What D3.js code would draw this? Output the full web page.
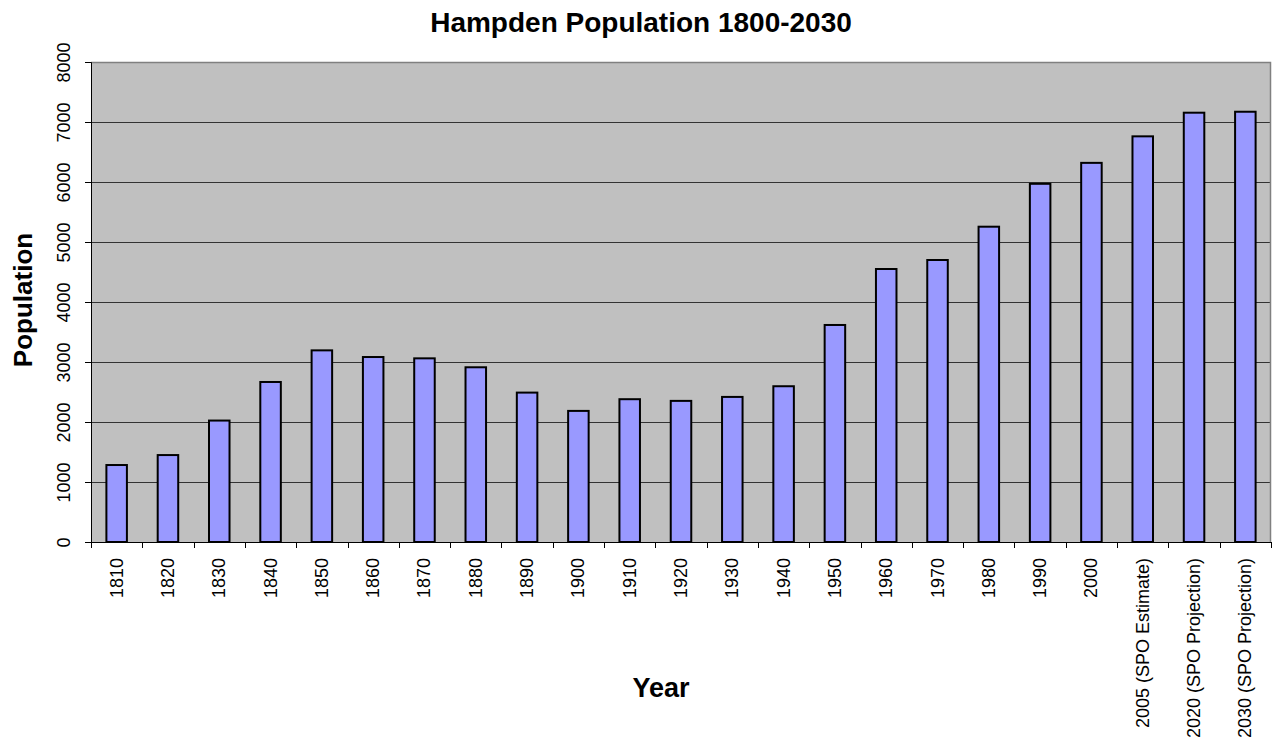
<!DOCTYPE html>
<html>
<head>
<meta charset="utf-8">
<script src="https://cdn.jsdelivr.net/npm/d3@7"></script>
<style>
  html, body { margin: 0; padding: 0; background: #fff; }
  svg { display: block; font-family: "Liberation Sans", Arial, sans-serif; }
</style>
</head>
<body>
<div id="chart"></div>
<script>
'use strict';

/* Hampden population by census year */
const years = ['1810', '1820', '1830', '1840', '1850', '1860', '1870', '1880', '1890', '1900',
    '1910', '1920', '1930', '1940', '1950', '1960', '1970', '1980', '1990', '2000',
    '2005 (SPO Estimate)', '2020 (SPO Projection)', '2030 (SPO Projection)'];
const population = [1283, 1449, 2024, 2667, 3194, 3083, 3061, 2912, 2490, 2185,
    2380, 2352, 2418, 2596, 3617, 4550, 4700, 5255, 5970, 6319,
    6761, 7155, 7171];
const yTicks = [0, 1000, 2000, 3000, 4000, 5000, 6000, 7000, 8000];

const W = 1272, H = 743;
const margin = { top: 62, right: 1, bottom: 201, left: 91 };
const iw = W - margin.left - margin.right;
const ih = H - margin.top - margin.bottom;

const svg = d3.select('#chart').append('svg').attr('width', W).attr('height', H);
const g = svg.append('g').attr('transform', `translate(${margin.left},${margin.top})`);

const x = d3.scaleBand().domain(years).range([0, iw]).paddingInner(0.6).paddingOuter(0.3);
const y = d3.scaleLinear().domain([0, 8000]).range([ih, 0]);

/* plot background */
g.append('rect').attr('width', iw).attr('height', ih).attr('fill', '#C0C0C0');

/* gridlines */
g.selectAll('line.grid')
    .data(yTicks.slice(1, -1))
    .join('line')
    .attr('class', 'grid')
    .attr('x1', 0).attr('x2', iw)
    .attr('y1', d => Math.round(y(d)) + 0.5).attr('y2', d => Math.round(y(d)) + 0.5)
    .attr('stroke', '#333').attr('stroke-width', 1);

/* top + right border */
g.append('path')
    .attr('d', `M0,0.5H${iw - 0.5}V${ih}`)
    .attr('fill', 'none').attr('stroke', '#808080').attr('stroke-width', 1.5);

/* bars */
g.selectAll('rect.bar')
    .data(population)
    .join('rect')
    .attr('class', 'bar')
    .attr('x', (d, i) => x(years[i]))
    .attr('width', x.bandwidth())
    .attr('y', d => y(d))
    .attr('height', d => ih - y(d))
    .attr('fill', '#9999FF')
    .attr('stroke', '#000').attr('stroke-width', 2);

/* y axis */
const yAxis = g.append('g')
    .call(d3.axisLeft(y).tickValues(yTicks).tickSize(6).tickFormat(d3.format('d')));
yAxis.select('.domain').attr('stroke', '#000');
yAxis.selectAll('.tick line').attr('stroke', '#000');
yAxis.selectAll('.tick text')
    .attr('x', null).attr('dy', null)
    .attr('transform', 'translate(-21,0) rotate(-90)')
    .attr('text-anchor', 'middle')
    .attr('font-size', 18).attr('fill', '#000');

/* x axis: ticks sit on category boundaries */
const xAxis = g.append('g').attr('transform', `translate(0,${ih})`)
    .call(d3.axisBottom(x).tickSize(0).tickFormat(''));
xAxis.select('.domain').attr('stroke', '#000');
g.append('g').selectAll('line')
    .data(d3.range(years.length + 1))
    .join('line')
    .attr('x1', i => Math.round(i * iw / years.length) + 0.5)
    .attr('x2', i => Math.round(i * iw / years.length) + 0.5)
    .attr('y1', ih).attr('y2', ih + 6)
    .attr('stroke', '#000');

g.append('g').selectAll('text')
    .data(years)
    .join('text')
    .attr('transform', d => `translate(${x(d) + x.bandwidth() / 2 + 6},${ih + 16}) rotate(-90)`)
    .attr('text-anchor', 'end')
    .attr('font-size', 18)
    .attr('fill', '#000')
    .text(d => d);

/* titles */
svg.append('text')
    .attr('x', 641).attr('y', 32)
    .attr('text-anchor', 'middle')
    .attr('font-size', 28).attr('font-weight', 'bold')
    .text('Hampden Population 1800-2030');

svg.append('text')
    .attr('transform', `translate(32,${300}) rotate(-90)`)
    .attr('text-anchor', 'middle')
    .attr('font-size', 26).attr('font-weight', 'bold')
    .text('Population');

svg.append('text')
    .attr('x', 661).attr('y', 697)
    .attr('text-anchor', 'middle')
    .attr('font-size', 27).attr('font-weight', 'bold')
    .text('Year');
</script>
</body>
</html>
